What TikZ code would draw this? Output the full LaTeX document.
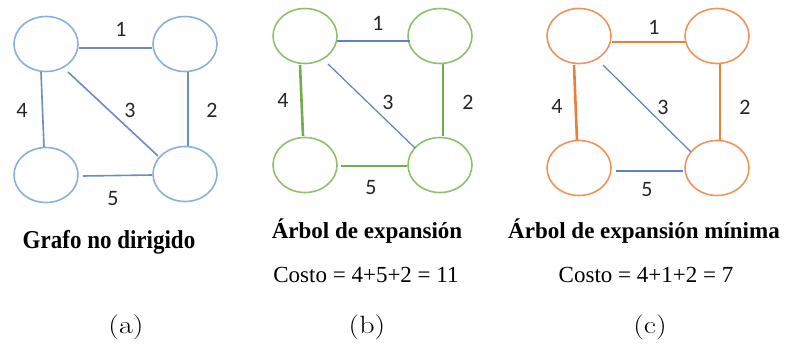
\documentclass[tikz,border=0pt]{standalone}
\usepackage{fontspec}
\usepackage{graphicx}
\usetikzlibrary{shapes.geometric}
\newfontfamily\tnr{Liberation Serif}[BoldFont={Liberation Serif Bold}]
\newfontfamily\digitfont{Carlito}
\definecolor{blueNode}{HTML}{8AAFDC}
\definecolor{blueEdge}{HTML}{6A8DC8}
\definecolor{blueThin}{HTML}{5E80C6}
\definecolor{greenNode}{HTML}{8DC06A}
\definecolor{greenEdge}{HTML}{72AE48}
\definecolor{orangeNode}{HTML}{F0935A}
\definecolor{orangeEdge}{HTML}{EB7F38}
\tikzset{
  vert/.style={ellipse, draw, line width=1.6pt, minimum width=64pt, minimum height=55pt, inner sep=0pt},
  edgeA/.style={draw=blueEdge, line width=1.6pt},
  thin/.style={draw=blueThin, line width=1.2pt},
  treeG/.style={draw=greenEdge, line width=2.6pt},
  treeO/.style={draw=orangeEdge, line width=2.6pt},
  wlabel/.style={font=\digitfont\fontsize{22}{26}\selectfont, text=black!85, inner sep=0pt},
  title/.style={font=\tnr\bfseries\fontsize{23}{27}\selectfont, anchor=base, inner sep=0pt},
  cost/.style={font=\tnr\fontsize{23}{27}\selectfont, anchor=base, inner sep=0pt},
  tag/.style={font=\fontsize{25}{30}\selectfont, anchor=base, inner sep=0pt}
}
\begin{document}
\begin{tikzpicture}[x=1pt, y=-1pt]
\useasboundingbox (0,0) rectangle (790,343);

% (a) undirected graph
\node[vert, draw=blueNode] (A1) at (46,44) {};
\node[vert, draw=blueNode] (A2) at (185,44) {};
\node[vert, draw=blueNode] (A3) at (46,175) {};
\node[vert, draw=blueNode] (A4) at (185,174) {};
\draw[edgeA] ([shift={(33,4)}]A1.center) -- ([shift={(-33,4)}]A2.center);
\draw[edgeA] ([shift={(-5,28)}]A1.center) -- ([shift={(-2,-28)}]A3.center);
\draw[edgeA] ([shift={(3,28)}]A2.center) -- ([shift={(3,-28)}]A4.center);
\draw[edgeA] ([shift={(22,28)}]A1.center) -- ([shift={(-27,-18)}]A4.center);
\draw[edgeA] ([shift={(37,1)}]A3.center) -- ([shift={(-33,1)}]A4.center);
\node[wlabel] (a1) at (121,29) {1};
\node[wlabel] (a4) at (22,110) {4};
\node[wlabel] (a3) at (130,110) {3};
\node[wlabel] (a2) at (212,110) {2};
\node[wlabel] (a5) at (113,199) {5};
\node[title] (ta) at (109,248) {\scalebox{1}[1.12]{Grafo no dirigido}};
\node[tag] (la) at (126,333) {\scalebox{1.2}[1]{(a)}};

% (b) spanning tree
\node[vert, draw=greenNode] (B1) at (305,36) {};
\node[vert, draw=greenNode] (B2) at (440,36) {};
\node[vert, draw=greenNode] (B3) at (305,165) {};
\node[vert, draw=greenNode] (B4) at (440,165) {};
\draw[thin] ([shift={(32,5)}]B1.center) -- ([shift={(-30,5)}]B2.center);
\draw[treeG] ([shift={(-5,29)}]B1.center) -- ([shift={(-2,-29)}]B3.center);
\draw[treeG] ([shift={(3,28)}]B2.center) -- ([shift={(3,-29)}]B4.center);
\draw[thin] ([shift={(23,28)}]B1.center) -- ([shift={(-25,-17)}]B4.center);
\draw[treeG] ([shift={(36,1)}]B3.center) -- ([shift={(-33,1)}]B4.center);
\node[wlabel] (b1) at (378,23) {1};
\node[wlabel] (b4) at (283,100) {4};
\node[wlabel] (b3) at (388,102) {3};
\node[wlabel] (b2) at (468,102) {2};
\node[wlabel] (b5) at (371,188) {5};
\node[title] (tb) at (367,238) {Árbol de expansión};
\node[cost] (cb) at (366,282) {Costo = 4+5+2 = 11};
\node[tag] (lb) at (367,333) {\scalebox{1.2}[1]{(b)}};

% (c) minimum spanning tree
\node[vert, draw=orangeNode] (C1) at (579,36) {};
\node[vert, draw=orangeNode] (C2) at (717,36) {};
\node[vert, draw=orangeNode] (C3) at (579,168) {};
\node[vert, draw=orangeNode] (C4) at (717,168) {};
\draw[treeO] ([shift={(33,6)}]C1.center) -- ([shift={(-32,6)}]C2.center);
\draw[treeO] ([shift={(-5,29)}]C1.center) -- ([shift={(-2,-28)}]C3.center);
\draw[treeO] ([shift={(3,28)}]C2.center) -- ([shift={(3,-28)}]C4.center);
\draw[thin] ([shift={(24,29)}]C1.center) -- ([shift={(-26,-16)}]C4.center);
\draw[thin] ([shift={(37,3)}]C3.center) -- ([shift={(-34,3)}]C4.center);
\node[wlabel] (c1) at (654,27) {1};
\node[wlabel] (c4) at (557,106) {4};
\node[wlabel] (c3) at (663,107) {3};
\node[wlabel] (c2) at (745,107) {2};
\node[wlabel] (c5) at (647,190) {5};
\node[title] (tc) at (644,238) {Árbol de expansión mínima};
\node[cost] (cc) at (646,282) {Costo = 4+1+2 = 7};
\node[tag] (lc) at (650,333) {\scalebox{1.2}[1]{(c)}};
\end{tikzpicture}
\end{document}
